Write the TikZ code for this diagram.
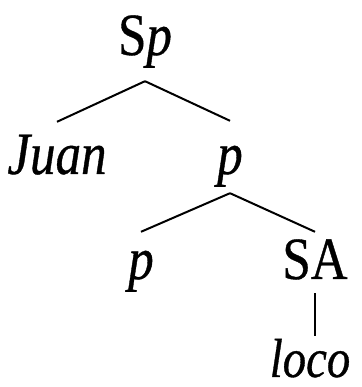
\documentclass[tikz,border=0pt]{standalone}
\usepackage{fontspec}
\setmainfont{Liberation Serif}[FakeStretch=0.85, FakeBold=0.6]
\usepackage{tikz}

\begin{document}
\begin{tikzpicture}[x=1pt, y=1pt,
    word/.style={inner sep=0pt, text height=40pt, text depth=13pt, anchor=base, font=\fontsize{60}{72}\selectfont},
    branch/.style={line width=2pt}]
    \useasboundingbox (0,0) rectangle (361,387);
    % Nodos del árbol
    \node[word] (Sp) at (145,332) {S\textit{p}};
    \node[word] (Juan) at (57,213) {\textit{Juan}};
    \node[word] (pmid) at (230,213) {\textit{p}};
    \node[word] (plow) at (141,108) {\textit{p}};
    \node[word] (SA) at (315,108) {SA};
    \node[word, text height=37pt, text depth=0pt, font=\fontsize{55}{66}\selectfont] (loco) at (310,10) {\textit{loco}};
    % Ramas
    \draw[branch] ([yshift=-13pt]Sp.south) -- ([yshift=12pt]Juan.north);
    \draw[branch] ([yshift=-13pt]Sp.south) -- ([yshift=13pt]pmid.north);
    \draw[branch] ([yshift=-6pt]pmid.south) -- ([yshift=7pt]plow.north);
    \draw[branch] ([yshift=-6pt]pmid.south) -- ([yshift=7pt]SA.north);
    \draw[branch] ([yshift=-1pt]SA.south) -- ([yshift=4pt]loco.north -| SA.south);
\end{tikzpicture}
\end{document}
